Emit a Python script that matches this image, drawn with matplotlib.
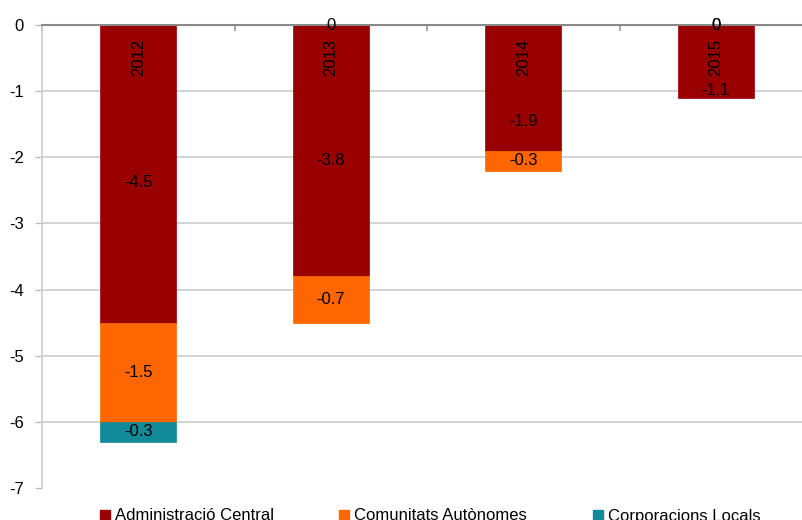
import matplotlib
matplotlib.use("Agg")
import matplotlib.pyplot as plt
from matplotlib.lines import Line2D
import numpy as np

plt.rcParams['font.family'] = ['Liberation Sans', 'DejaVu Sans']

years = ["2012", "2013", "2014", "2015"]
series_names = ["Administració Central", "Comunitats Autònomes", "Corporacions Locals"]
admin_central = [-4.5, -3.8, -1.9, -1.1]
comunitats = [-1.5, -0.7, -0.3, 0.0]
corporacions = [-0.3, 0.0, None, 0.0]
colors = ["#990000", "#FF6600", "#138A9A"]

# pixel offsets for top segment labels (Excel shifts them away from the category text)
top_label_shift_px = [-9, -10, -34, -29]

fig = plt.figure(figsize=(8.02, 5.20), dpi=100)
ax = fig.add_axes([42/802, 1 - 488/520, 770/802, 463/520])

x = np.arange(len(years)) + 0.5
width = 0.395
fs = 12

neg_base = np.zeros(len(years))
pos_base = np.zeros(len(years))
for si, (vals, col) in enumerate(zip([admin_central, comunitats, corporacions], colors)):
    for i, v in enumerate(vals):
        if v is None:
            continue
        if v < 0:
            b = neg_base[i]
            ax.bar(x[i], v, width, bottom=b, color=col, edgecolor=col, linewidth=0.5, zorder=3)
            cy = b + v / 2
            neg_base[i] += v
            shift = top_label_shift_px[i] if si == 0 else 0
            ax.annotate(f"{v:g}", (x[i], cy), xytext=(0, shift), textcoords='offset pixels',
                        ha='center', va='center', fontsize=fs, color='black', zorder=5)
        else:
            ax.annotate("0", (x[i], pos_base[i]), ha='center', va='center',
                        fontsize=fs, color='black', zorder=5, annotation_clip=False)

for i, yr in enumerate(years):
    ax.annotate(yr, (x[i], 0), xytext=(0, -14), textcoords='offset pixels',
                rotation=90, ha='center', va='top', fontsize=fs, color='black', zorder=5)

ax.set_xlim(0, 4)
ax.set_ylim(-7, 0)
ax.set_yticks(np.arange(-7, 1, 1))
ax.set_yticklabels([f"{t}" for t in range(-7, 1)])
ax.tick_params(axis='y', length=5, width=1, color='#BBBBBB', labelsize=fs, pad=8)

ax.xaxis.set_ticks_position('top')
ax.set_xticks([0, 1, 2, 3, 4])
ax.set_xticklabels([])
ax.tick_params(axis='x', direction='in', length=4, width=1.5, color='#AAAAAA')

for t in range(-6, 0):
    ax.axhline(t, color='#CCCCCC', linewidth=1.2, zorder=1)

for s in ['right', 'bottom']:
    ax.spines[s].set_visible(False)
ax.spines['left'].set_color('#CCCCCC')
ax.spines['left'].set_linewidth(1.2)
ax.spines['top'].set_color('#888888')
ax.spines['top'].set_linewidth(1.5)
ax.spines['top'].set_zorder(4)

handles = [Line2D([0], [0], marker='s', linestyle='none', markersize=6.5,
                  markerfacecolor=c, markeredgecolor=c) for c in colors]
fig.legend(handles, series_names, loc='center', bbox_to_anchor=(430/802, 1 - 516/520),
           ncol=3, frameon=False, fontsize=fs, handlelength=0.6, handletextpad=0.3,
           columnspacing=3.93, borderpad=0)

fig.savefig("out.png", dpi=100)
